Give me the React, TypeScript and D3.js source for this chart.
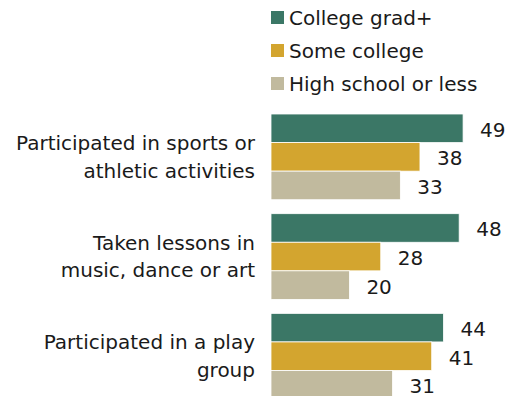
import React from "react";
import * as d3 from "d3";

const categories = [
  ["Participated in sports or", "athletic activities"],
  ["Taken lessons in", "music, dance or art"],
  ["Participated in a play", "group"],
];
const series = ["College grad+", "Some college", "High school or less"];
const collegeGrad = [49, 48, 44];
const someCollege = [38, 28, 41];
const highSchool = [33, 20, 31];

const colors = ["#3b7766", "#d3a52f", "#c1ba9e"];
const W = 509;
const H = 396;
const font = "'DejaVu Sans', sans-serif";
const fs = 20;

export default function App() {
  const values = [collegeGrad, someCollege, highSchool];
  const keys = categories.map((c) => c.join(" "));

  const x = d3.scaleLinear().domain([0, 100]).range([271, 271 + 392]);
  const y = d3.scaleBand<string>().domain(keys).range([114, 399.1]).paddingInner(0.14).paddingOuter(0);
  const ySub = d3.scaleBand<string>().domain(series).range([0, y.bandwidth()]);

  return (
    <svg width={W} height={H} style={{ position: "absolute", left: 0, top: 0, background: "#fff" }} fontFamily={font}>
      {/* legend */}
      {series.map((s, i) => (
        <g key={s} transform={`translate(271,${11 + i * 33})`}>
          <rect width={13} height={13} fill={colors[i]} />
          <text x={18} y={7} dy="0.35em" fontSize={fs} fill="#1a1a1a">
            {s}
          </text>
        </g>
      ))}

      {keys.map((k, ci) => {
        const y0 = y(k)!;
        const mid = y0 + y.bandwidth() / 2;
        return (
          <g key={k}>
            {categories[ci].map((line, li) => (
              <text
                key={li}
                x={255}
                y={mid + (li - 0.5) * 27.5}
                dy="0.35em"
                textAnchor="end"
                fontSize={fs}
                fill="#1a1a1a"
              >
                {line}
              </text>
            ))}
            {series.map((s, si) => {
              const v = values[si][ci];
              const by = y0 + ySub(s)!;
              return (
                <g key={s}>
                  <rect
                    x={x(0)}
                    y={by}
                    width={x(v) - x(0)}
                    height={ySub.bandwidth()}
                    fill={colors[si]}
                    stroke="#fff"
                    strokeWidth={0.8}
                  />
                  <text x={x(v) + 17} y={by + ySub.bandwidth() / 2 + 1.5} dy="0.35em" fontSize={fs} fill="#1a1a1a">
                    {v}
                  </text>
                </g>
              );
            })}
          </g>
        );
      })}
    </svg>
  );
}
